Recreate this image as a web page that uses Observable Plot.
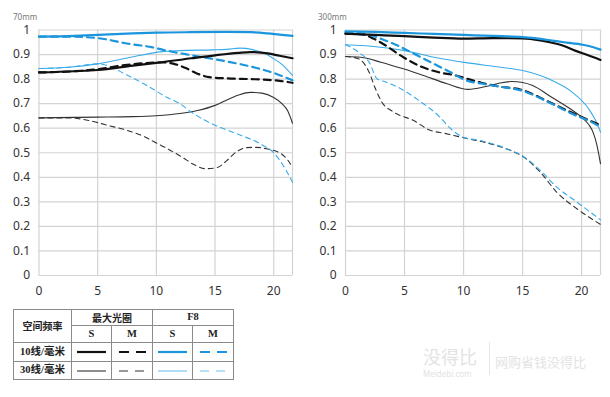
<!DOCTYPE html>
<html><head><meta charset="utf-8">
<script src="https://cdn.jsdelivr.net/npm/d3@7"></script>
<script src="https://cdn.jsdelivr.net/npm/@observablehq/plot@0.6"></script>
<style>
body{margin:0;background:#fff;}
#wrap{position:relative;width:610px;height:397px;overflow:hidden;background:#fff;}
.chart{position:absolute;top:0;}
.ttl{position:absolute;top:11px;font:8px "Noto Sans",sans-serif;color:#777;}
#legend{position:absolute;left:13px;top:309px;border-collapse:collapse;table-layout:fixed;
  font-family:"Liberation Serif","Noto Sans CJK SC",serif;font-weight:bold;font-size:10.5px;color:#222;}
#legend td{border:1px solid #8a8a8a;padding:0;text-align:center;vertical-align:middle;line-height:1;}
#legend svg{display:block;margin:0 auto;}
.wm{position:absolute;color:#e3e3e3;white-space:nowrap;line-height:1;}
</style></head>
<body><div id="wrap"></div>
<script>
// ---------- data ----------
const xTicks = [0, 5, 10, 15, 20];
const yTicks = [0, 0.1, 0.2, 0.3, 0.4, 0.5, 0.6, 0.7, 0.8, 0.9, 1];
const xMax = 21.6;
const titles = ["70mm", "300mm"];

// 70mm
const w70_max10S = [[0,0.827],[3,0.832],[5,0.837],[8,0.855],[10,0.866],[13,0.885],[15,0.897],[17,0.907],[18,0.91],[19.5,0.905],[20.5,0.895],[21.6,0.885]];
const w70_max10M = [[0,0.827],[3,0.832],[5,0.84],[7,0.855],[9,0.865],[10.5,0.868],[11.5,0.862],[12.5,0.845],[13.5,0.822],[14.5,0.808],[16,0.803],[18,0.8],[19.5,0.797],[20.5,0.793],[21.6,0.785]];
const w70_max30S = [[0,0.642],[3,0.644],[5,0.645],[8,0.647],[10,0.651],[12,0.66],[13.5,0.672],[15,0.693],[16,0.715],[17,0.735],[18,0.746],[19,0.743],[20,0.725],[20.7,0.7],[21.2,0.67],[21.6,0.62]];
const w70_max30M = [[0,0.642],[2.5,0.642],[3.5,0.638],[4.8,0.625],[6,0.61],[7.6,0.59],[9,0.565],[10.1,0.537],[11,0.515],[12.2,0.482],[13.2,0.452],[14.2,0.435],[15.2,0.44],[16,0.468],[16.8,0.503],[17.7,0.521],[18.5,0.522],[19.4,0.516],[20.6,0.497],[21.2,0.47],[21.6,0.44]];
const w70_f8_10S = [[0,0.973],[3,0.976],[5,0.98],[8,0.986],[10,0.989],[13,0.991],[16,0.992],[18,0.991],[19.5,0.986],[20.5,0.981],[21.6,0.976]];
const w70_f8_10M = [[0,0.973],[2.5,0.973],[5,0.967],[7.6,0.944],[9.6,0.93],[10.5,0.92],[13,0.897],[16,0.872],[18.8,0.842],[20,0.825],[21.6,0.795]];
const w70_f8_30S = [[0,0.843],[2.5,0.848],[5,0.862],[7.6,0.887],[10.5,0.912],[12,0.916],[14.8,0.919],[16,0.921],[17.1,0.926],[18.2,0.92],[19.2,0.905],[19.9,0.886],[20.7,0.86],[21.6,0.815]];
const w70_f8_30M = [[0,0.843],[2.5,0.848],[5,0.862],[6.2,0.849],[7.3,0.821],[8.7,0.787],[9.9,0.754],[10.6,0.733],[12,0.7],[13,0.665],[15,0.612],[16.6,0.582],[18.9,0.535],[20,0.5],[21.1,0.425],[21.6,0.38]];

// 300mm
const w300_max10S = [[0,0.985],[2.5,0.98],[5,0.975],[7.5,0.969],[10,0.965],[12.5,0.967],[15,0.966],[16.5,0.958],[17.5,0.948],[18.5,0.935],[19.5,0.915],[20.5,0.898],[21.6,0.878]];
const w300_max10M = [[0,0.985],[1.3,0.983],[2.4,0.964],[3.2,0.943],[4.9,0.889],[6.5,0.849],[7.9,0.828],[9.3,0.815],[10.2,0.803],[11.5,0.785],[13,0.77],[15,0.755],[17.2,0.708],[19.2,0.663],[20.5,0.635],[21.6,0.612]];
const w300_max30S = [[0,0.892],[1.3,0.889],[3,0.869],[4.9,0.842],[6.6,0.815],[8.6,0.781],[10.4,0.758],[11.9,0.77],[13,0.783],[14.1,0.79],[15,0.786],[15.8,0.775],[17.5,0.725],[19,0.68],[20,0.645],[20.6,0.615],[21,0.58],[21.3,0.53],[21.6,0.455]];
const w300_max30M = [[0,0.892],[1.1,0.883],[2,0.828],[2.5,0.765],[3.1,0.705],[4,0.668],[5.9,0.628],[7,0.595],[8.5,0.578],[10,0.561],[12.3,0.536],[14,0.509],[15.1,0.482],[16.5,0.421],[17.9,0.339],[19.6,0.272],[21.6,0.208]];
const w300_f8_10S = [[0,0.995],[2.5,0.992],[5,0.988],[7.5,0.984],[10,0.98],[12.5,0.976],[15,0.971],[16.5,0.964],[17.5,0.957],[18.5,0.95],[20.1,0.94],[21,0.93],[21.6,0.92]];
const w300_f8_10M = [[0,0.99],[1.6,0.985],[3,0.964],[4.4,0.937],[6.1,0.896],[7.5,0.862],[8.9,0.828],[10.2,0.795],[11.5,0.782],[13,0.77],[15,0.752],[17.2,0.706],[19.5,0.652],[20.5,0.633],[21.6,0.605]];
const w300_f8_30S = [[0,0.94],[2.4,0.933],[4.9,0.917],[7.5,0.889],[10.2,0.867],[13,0.849],[15,0.835],[17.2,0.801],[19.2,0.747],[20.6,0.679],[21.2,0.63],[21.6,0.584]];
const w300_f8_30M = [[0,0.94],[1.1,0.91],[2,0.869],[2.7,0.80],[3.3,0.79],[4.9,0.755],[6.3,0.71],[8,0.645],[8.75,0.605],[10,0.563],[11.4,0.55],[14,0.51],[15.1,0.484],[16.5,0.428],[17.9,0.36],[19.6,0.299],[21.6,0.227]];

// legend labels
const apertureLabels = ["最大光圈", "F8"];
const typeLabels = ["S", "M"];
const freqLabels = ["10线/毫米", "30线/毫米"];
const headerLabel = "空间频率";

// ---------- styles ----------
const styleOf = {
  max10S: {stroke:"#111", strokeWidth:2.2},
  max10M: {stroke:"#111", strokeWidth:2.2, strokeDasharray:"7,5"},
  max30S: {stroke:"#333", strokeWidth:1.1},
  max30M: {stroke:"#333", strokeWidth:1.1, strokeDasharray:"5,4"},
  f8_10S: {stroke:"#1b95dc", strokeWidth:2.2},
  f8_10M: {stroke:"#1b95dc", strokeWidth:2.2, strokeDasharray:"7,5"},
  f8_30S: {stroke:"#38abea", strokeWidth:1.1},
  f8_30M: {stroke:"#38abea", strokeWidth:1.1, strokeDasharray:"5,4"}
};
const charts = [
  {title: titles[0], left:0, ml:38.5, mr:13, series:{max30S:w70_max30S,max30M:w70_max30M,f8_30S:w70_f8_30S,f8_30M:w70_f8_30M,max10M:w70_max10M,f8_10M:w70_f8_10M,max10S:w70_max10S,f8_10S:w70_f8_10S}},
  {title: titles[1], left:305, ml:40, mr:10, series:{max30S:w300_max30S,max30M:w300_max30M,f8_30S:w300_f8_30S,f8_30M:w300_f8_30M,max10M:w300_max10M,f8_10M:w300_f8_10M,max10S:w300_max10S,f8_10S:w300_f8_10S}}
];

const wrap = document.getElementById("wrap");
const fmt = d => d === 0 ? "0" : Math.abs(d - 1) < 1e-9 ? "1" : d.toFixed(1);

for (const c of charts) {
  const marks = [
    Plot.gridX([...xTicks, xMax], {stroke:"#d3d3d3", strokeOpacity:1, strokeWidth:1.2}),
    Plot.gridY(yTicks, {stroke:"#d3d3d3", strokeOpacity:1, strokeWidth:1.2}),
    Plot.axisX(xTicks, {tickSize:0, tickPadding:11, tickFormat:d=>String(d)}),
    Plot.axisY(yTicks, {tickSize:0, tickPadding:9, tickFormat:fmt})
  ];
  for (const [k, data] of Object.entries(c.series)) {
    marks.push(Plot.line(data, {x:d=>d[0], y:d=>d[1], curve:"monotone-x", ...styleOf[k]}));
  }
  const svg = Plot.plot({
    width:305, height:305,
    marginLeft:c.ml, marginRight:c.mr, marginTop:29.5, marginBottom:30,
    x:{domain:[0, xMax], label:null},
    y:{domain:[0, 1], label:null},
    style:{fontSize:"12px", fontFamily:"'Noto Sans',sans-serif", color:"#333", background:"transparent"},
    marks
  });
  svg.classList.add("chart");
  svg.style.left = c.left + "px";
  wrap.appendChild(svg);
  const t = document.createElement("div");
  t.className = "ttl";
  t.textContent = c.title;
  t.style.left = (c.left + 13) + "px";
  wrap.appendChild(t);
}

// ---------- legend table ----------
function sample(k) {
  const s = styleOf[k];
  const legendColor = k.startsWith("f8_30") ? "#6cc0ee" : s.stroke;
  const dash = s.strokeDasharray ? (k.includes("10") ? "10,7" : "9,7") : null;
  return `<svg width="29" height="6"><line x1="0" x2="29" y1="3" y2="3" stroke="${legendColor}" stroke-width="${s.strokeWidth}" ${dash ? `stroke-dasharray="${dash}" stroke-dashoffset="-1"` : ""}/></svg>`;
}
const tbl = document.createElement("table");
tbl.id = "legend";
tbl.innerHTML = `
<colgroup><col style="width:58px"><col style="width:40px"><col style="width:41px"><col style="width:40px"><col style="width:41px"></colgroup>
<tr style="height:16px"><td rowspan="2" style="font-family:'Noto Sans CJK SC';font-size:10px">${headerLabel}</td>
<td colspan="2" style="font-family:'Noto Sans CJK SC';font-size:10px">${apertureLabels[0]}</td><td colspan="2">${apertureLabels[1]}</td></tr>
<tr style="height:17px"><td>${typeLabels[0]}</td><td>${typeLabels[1]}</td><td>${typeLabels[0]}</td><td>${typeLabels[1]}</td></tr>
<tr style="height:19px"><td>${freqLabels[0]}</td><td>${sample("max10S")}</td><td>${sample("max10M")}</td><td>${sample("f8_10S")}</td><td>${sample("f8_10M")}</td></tr>
<tr style="height:18px"><td>${freqLabels[1]}</td><td>${sample("max30S")}</td><td>${sample("max30M")}</td><td>${sample("f8_30S")}</td><td>${sample("f8_30M")}</td></tr>`;
wrap.appendChild(tbl);

// ---------- watermark ----------
const wm = [
  {t:"没得比", x:423, y:347, s:"18px 'Noto Sans CJK SC'"},
  {t:"Meidebi.com", x:423, y:370, s:"8px 'Noto Sans'"},
  {t:"网购省钱没得比", x:495, y:355, s:"13px 'Noto Sans CJK SC'"}
];
for (const w of wm) {
  const d = document.createElement("div");
  d.className = "wm"; d.textContent = w.t;
  d.style.left = w.x + "px"; d.style.top = w.y + "px"; d.style.font = w.s; d.style.lineHeight = "1";
  wrap.appendChild(d);
}
const bar = document.createElement("div");
bar.className = "wm"; bar.style.cssText += "left:489px;top:342px;width:1px;height:33px;background:#e6e6e6;";
wrap.appendChild(bar);
</script></body></html>
